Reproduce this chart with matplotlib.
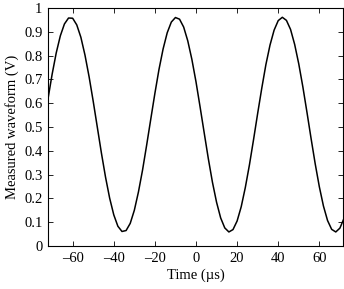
import matplotlib
matplotlib.use('Agg')
import matplotlib.pyplot as plt

# time axis (us) and waveform values (V)
time_us = list(range(-72, 73, 2))
waveform_v = [0.618, 0.721, 0.811, 0.883, 0.933, 0.958, 0.957, 0.929, 0.877, 0.802,
              0.711, 0.608, 0.499, 0.390, 0.289, 0.201, 0.131, 0.083, 0.061, 0.065,
              0.095, 0.150, 0.227, 0.319, 0.424, 0.533, 0.641, 0.742, 0.828, 0.896,
              0.941, 0.960, 0.953, 0.920, 0.862, 0.784, 0.690, 0.584, 0.475, 0.367,
              0.268, 0.184, 0.118, 0.076, 0.059, 0.069, 0.105, 0.165, 0.246, 0.341,
              0.447, 0.557, 0.663, 0.762, 0.844, 0.907, 0.947, 0.961, 0.948, 0.910,
              0.847, 0.765, 0.668, 0.561, 0.451, 0.345, 0.249, 0.168, 0.107, 0.070,
              0.059, 0.075, 0.116]

x_ticks = [-60, -40, -20, 0, 20, 40, 60]
y_ticks = [0, 0.1, 0.2, 0.3, 0.4, 0.5, 0.6, 0.7, 0.8, 0.9, 1]
y_labels = ['0', '0.1', '0.2', '0.3', '0.4', '0.5', '0.6', '0.7', '0.8', '0.9', '1']

plt.rcParams['font.family'] = ['Liberation Serif', 'DejaVu Serif']
plt.rcParams['font.size'] = 10.5

fig = plt.figure(figsize=(3.44, 2.89), dpi=100)
ax = fig.add_axes([0.1395, 0.1488, 0.8575, 0.8235])

ax.plot(time_us, waveform_v, color='black', linewidth=1.1)

ax.set_xlim(-72, 71.5)
ax.set_ylim(0, 1)
ax.set_xticks(x_ticks)
ax.set_xticklabels(['\u2013' + str(-v) if v < 0 else str(v) for v in x_ticks])
ax.set_yticks(y_ticks)
ax.set_yticklabels(y_labels)
ax.tick_params(direction='in', top=True, right=True, length=3.5, width=0.6, pad=4)
for s in ax.spines.values():
    s.set_linewidth(0.8)

ax.set_xlabel('Time (\u00b5s)', labelpad=3)
ax.set_ylabel('Measured waveform (V)', labelpad=4)

fig.savefig('out.png', dpi=100)
